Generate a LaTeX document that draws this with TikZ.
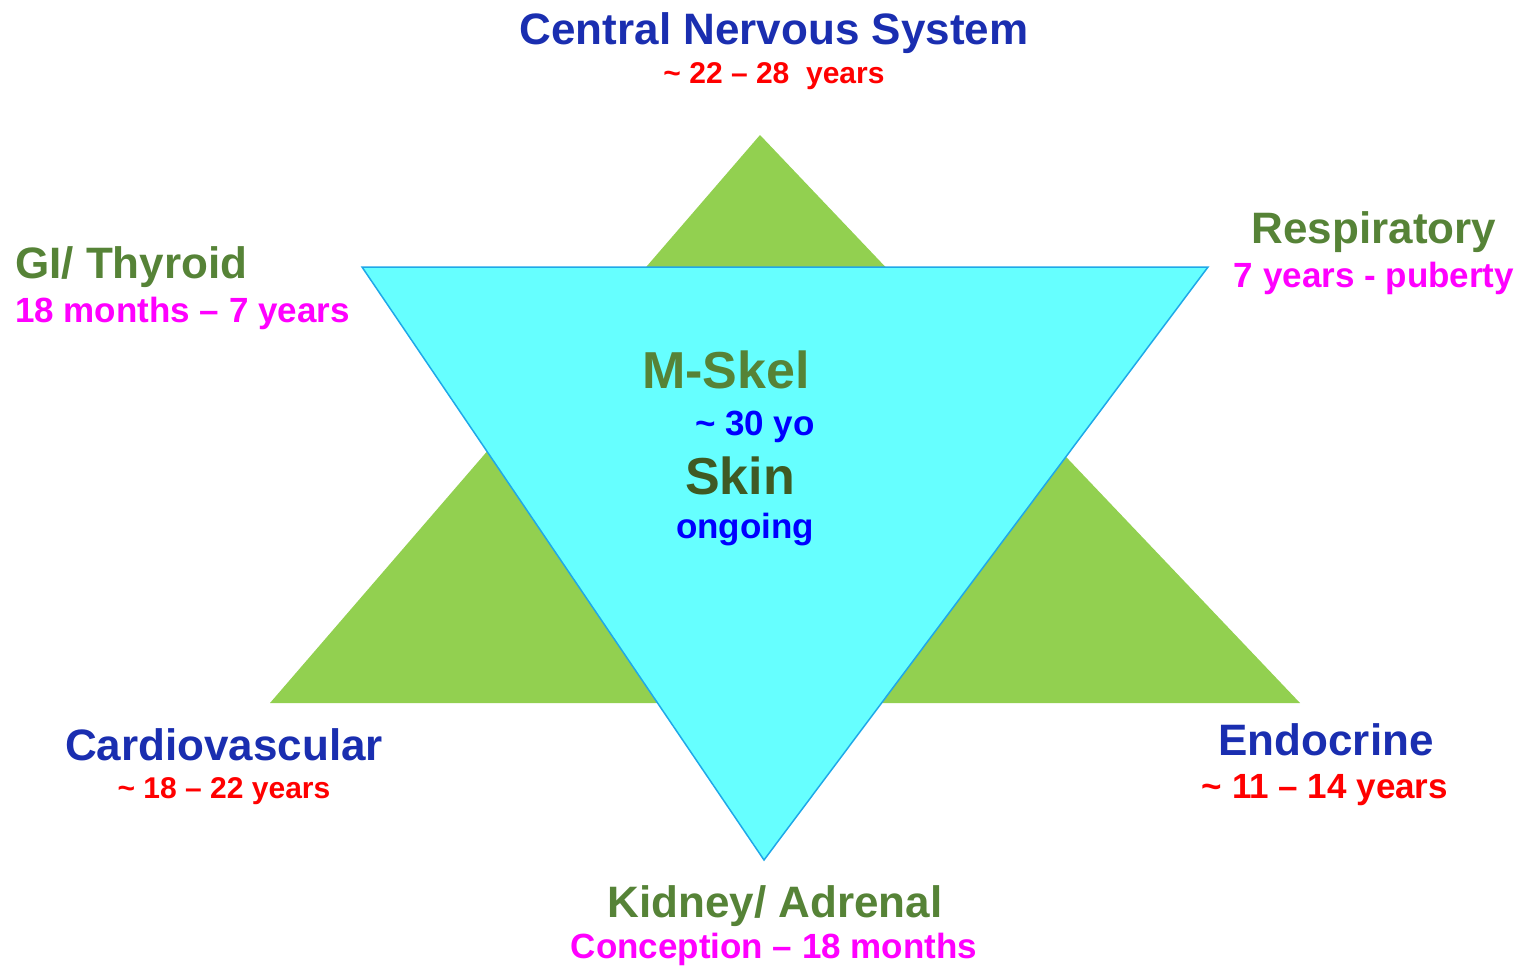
\documentclass[tikz,border=0pt]{standalone}
\usepackage{fontspec}
\setmainfont{Liberation Sans}
\definecolor{trigreen}{HTML}{92D050}
\definecolor{tricyan}{HTML}{66FFFF}
\definecolor{triedge}{HTML}{1FA8E8}
\definecolor{txtgreen}{HTML}{568337}
\definecolor{skingreen}{HTML}{3F5A24}
\definecolor{txtblue}{HTML}{1A2EB0}
\definecolor{vblue}{HTML}{0000FF}
\definecolor{vred}{HTML}{FF0000}
\definecolor{vmag}{HTML}{FF00FF}
\tikzset{
  lbl/.style={inner sep=0pt, anchor=base, font=\bfseries},
  big/.style={font=\fontsize{44}{50}\selectfont\bfseries},
  huge/.style={font=\fontsize{52}{58}\selectfont\bfseries},
  mid/.style={font=\fontsize{35}{40}\selectfont\bfseries},
  small/.style={font=\fontsize{30}{34}\selectfont\bfseries},
}
\begin{document}
\begin{tikzpicture}[x=1pt,y=-1pt]
\useasboundingbox (0,0) rectangle (1520,966);
% green triangle
\coordinate (gT) at (760,135);
\coordinate (gL) at (270,703);
\coordinate (gR) at (1300,703);
\fill[trigreen] (gT) -- (gR) -- (gL) -- cycle;
% cyan triangle
\coordinate (cL) at (362,267);
\coordinate (cR) at (1208,267);
\coordinate (cB) at (764,860);
\filldraw[fill=tricyan, draw=triedge, line width=1.5pt, line join=miter] (cL) -- (cR) -- (cB) -- cycle;
% labels
\node[lbl,big,txtblue] (cns) at (774,45) {Central Nervous System};
\node[lbl,small,vred] (cnsage) at (774,84) {\textasciitilde{} 22 -- 28\ \ years};
\node[lbl,big,txtgreen,anchor=base west] (gi) at (15,278) {GI/ Thyroid};
\node[lbl,mid,vmag,anchor=base west] (giage) at (15,322) {18 months -- 7 years};
\node[lbl,big,txtgreen] (resp) at (1374,243) {Respiratory};
\node[lbl,mid,vmag] (respage) at (1374,287) {7 years - puberty};
\node[lbl,huge,txtgreen] (msk) at (726,388) {M-Skel};
\node[lbl,mid,vblue] (mskage) at (755,435) {\textasciitilde{} 30 yo};
\node[lbl,huge,skingreen] (skin) at (740,494) {Skin};
\node[lbl,mid,vblue] (skinage) at (745,538) {ongoing};
\node[lbl,big,txtblue] (cardio) at (224,760) {Cardiovascular};
\node[lbl,small,vred] (cardioage) at (224,798) {\textasciitilde{} 18 -- 22 years};
\node[lbl,big,txtblue] (endo) at (1326,755) {Endocrine};
\node[lbl,mid,vred] (endoage) at (1325,798) {\textasciitilde{} 11 -- 14 years};
\node[lbl,big,txtgreen] (kid) at (775,917) {Kidney/ Adrenal};
\node[lbl,mid,vmag] (kidage) at (774,958) {Conception -- 18 months};
\end{tikzpicture}
\end{document}
